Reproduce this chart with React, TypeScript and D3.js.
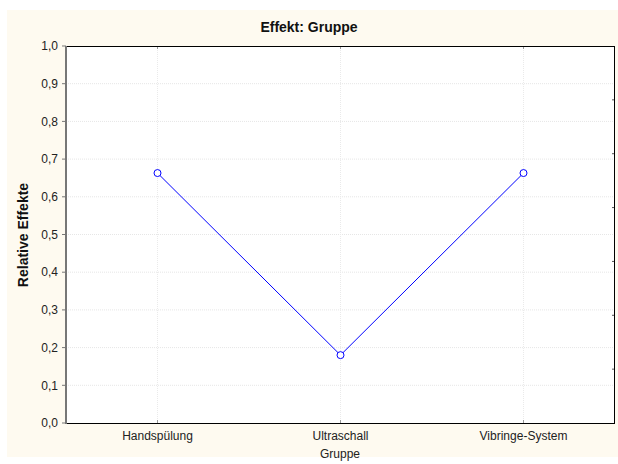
import React from "react";
import * as d3 from "d3";

const categories = ["Handspülung", "Ultraschall", "Vibringe-System"];
const values = [0.663, 0.18, 0.663];
const yTicks = [0, 0.1, 0.2, 0.3, 0.4, 0.5, 0.6, 0.7, 0.8, 0.9, 1.0];

export default function App() {
  const W = 618, H = 464;
  const left = 66, right = 615, top = 46, bottom = 423;
  const x = d3.scalePoint<string>().domain(categories).range([left, right]).padding(0.5);
  const y = d3.scaleLinear().domain([0, 1]).range([bottom, top]);
  const line = d3.line<number>().x((_, i) => x(categories[i])!).y((d) => y(d));
  const rightTicks = d3.range(1, 7).map((i) => top + ((bottom - top) * i) / 7);
  const fmt = (v: number) => v.toFixed(1).replace(".", ",");
  const font = "Liberation Sans, Arial, sans-serif";
  return (
    <svg width={W} height={H} style={{ position: "absolute", left: 0, top: 0 }} fontFamily={font}>
      <rect x={0} y={0} width={W} height={H} fill="#ffffff" />
      <rect x={7} y={10} width={W - 7} height={447} fill="#fefaf0" />
      <rect x={left} y={top} width={right - left} height={bottom - top} fill="#ffffff" />
      {yTicks.slice(1, -1).map((t) => (
        <line key={"g" + t} x1={left} x2={right} y1={y(t)} y2={y(t)} stroke="#e6e6e6" strokeWidth={1} strokeDasharray="1,1" />
      ))}
      {categories.map((c) => (
        <line key={"v" + c} x1={x(c)} x2={x(c)} y1={top} y2={bottom} stroke="#eaeaea" strokeWidth={1} strokeDasharray="1,1" />
      ))}
      {categories.map((c) => (
        <g key={"t" + c}>
          <line x1={x(c)} x2={x(c)} y1={top} y2={top + 3} stroke="#999" />
          <line x1={x(c)} x2={x(c)} y1={bottom} y2={bottom - 3} stroke="#999" />
        </g>
      ))}
      {rightTicks.map((t, i) => (
        <line key={"r" + i} x1={right - 3} x2={right} y1={t} y2={t} stroke="#555" />
      ))}
      <line x1={left} x2={right} y1={top + 0.5} y2={top + 0.5} stroke="#000" />
      <line x1={right - 0.5} x2={right - 0.5} y1={top} y2={bottom} stroke="#000" />
      <line x1={left} x2={right} y1={bottom + 0.5} y2={bottom + 0.5} stroke="#000" />
      <line x1={left} x2={left} y1={top} y2={bottom + 1} stroke="#777" strokeWidth={2} />
      {yTicks.map((t) => (
        <g key={"y" + t}>
          <line x1={left - 4} x2={left} y1={y(t)} y2={y(t)} stroke="#777" />
          <text x={58} y={y(t)} dy="0.35em" textAnchor="end" fontSize={12} fill="#222">{fmt(t)}</text>
        </g>
      ))}
      {categories.map((c) => (
        <text key={"l" + c} x={x(c)} y={440} textAnchor="middle" fontSize={12} fill="#222">{c}</text>
      ))}
      <path d={line(values)!} fill="none" stroke="#0000ff" strokeWidth={1} />
      {values.map((v, i) => (
        <circle key={"c" + i} cx={x(categories[i])} cy={y(v)} r={3.5} fill="#fff" stroke="#0000ff" strokeWidth={1} />
      ))}
      <text x={309} y={32} textAnchor="middle" fontSize={14} fontWeight="bold" fill="#111">Effekt: Gruppe</text>
      <text x={340} y={458} textAnchor="middle" fontSize={12} fill="#222">Gruppe</text>
      <text transform="translate(28,235) rotate(-90)" textAnchor="middle" fontSize={14} fontWeight="bold" fill="#111">Relative Effekte</text>
    </svg>
  );
}
